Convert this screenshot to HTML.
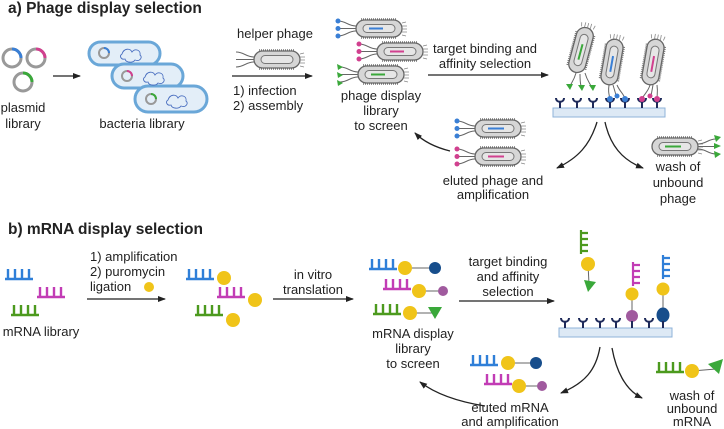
<!DOCTYPE html>
<html><head><meta charset="utf-8"><style>
html,body{margin:0;padding:0;background:#fff}
svg{display:block}
text{font-family:"Liberation Sans",sans-serif;fill:#222;font-size:13px}
.b{font-weight:bold;font-size:15.5px}
</style></head><body>
<svg width="724" height="429" viewBox="0 0 724 429" xmlns="http://www.w3.org/2000/svg">
<defs>
<marker id="ar" markerWidth="8" markerHeight="8" refX="7" refY="4" orient="auto" markerUnits="userSpaceOnUse"><path d="M0,1 L8,4 L0,7 Z" fill="#222"/></marker>
<g id="pb">
<line x1="5" y1="-1" x2="41" y2="-1" stroke="#777" stroke-width="1.6" stroke-dasharray="1 1"/>
<line x1="5" y1="18" x2="41" y2="18" stroke="#777" stroke-width="1.6" stroke-dasharray="1 1"/>
<rect x="0" y="0" width="46" height="17" rx="8.5" fill="#d6d6d6" stroke="#666" stroke-width="1.3"/>
<rect x="7" y="4.5" width="32" height="8" rx="4" fill="#e6e6e6" stroke="#777" stroke-width="1"/>
<path d="M46,3 l4,-1 M46,6 l5,0 M46,9 l5,0 M46,12 l5,0 M46,15 l4,1" stroke="#888" stroke-width="0.8"/>
</g>
<g id="tl"><path d="M0,6 C-8,6 -10,1 -18,1 M0,8.5 C-8,8.5 -10,8.5 -18,8.5 M0,11 C-8,11 -10,16 -18,16" fill="none" stroke="#666" stroke-width="1"/></g>
<g id="comb"><path d="M0,0 H28 M3,0 V-10 M10,0 V-10 M17,0 V-10 M24,0 V-10" stroke-width="2.4" fill="none"/></g>
<g id="vcomb"><path d="M0,0 V24 M0,3 H7 M0,9 H7 M0,15 H7 M0,21 H7" stroke-width="2.2" fill="none"/></g>
<g id="rec"><path d="M-4,0 C-4,5 4,5 4,0 M0,4 V10" stroke="#1e2a5a" stroke-width="2" fill="none"/></g>
</defs>

<text x="8" y="13" class="b">a) Phage display selection</text>
<g fill="none" stroke-width="3">
<circle cx="12" cy="58" r="9" stroke="#999"/><path d="M12,49 A9,9 0 0 1 21,58" stroke="#3a7fd5"/>
<circle cx="36" cy="58" r="9" stroke="#999"/><path d="M36,49 A9,9 0 0 1 45,58" stroke="#d1408f"/>
<circle cx="23" cy="82" r="9" stroke="#999"/><path d="M23,73 A9,9 0 0 1 32,82" stroke="#3aa83a"/>
</g>
<text x="23" y="112" text-anchor="middle">plasmid</text>
<text x="23" y="128" text-anchor="middle">library</text>
<line x1="53" y1="76" x2="80" y2="76" stroke="#222" stroke-width="1.3" marker-end="url(#ar)"/>

<g stroke-width="3">
<rect x="89" y="42" width="71" height="23" rx="11.5" fill="#e3eef8" stroke="#6aa7d8"/>
<rect x="112" y="64" width="71" height="24" rx="12" fill="#e3eef8" stroke="#6aa7d8"/>
<rect x="135" y="86" width="72" height="26" rx="13" fill="#e3eef8" stroke="#6aa7d8"/>
</g>
<g fill="none" stroke-width="2">
<circle cx="104" cy="53" r="5" stroke="#999"/><path d="M104,48 A5,5 0 0 1 109,53" stroke="#3a7fd5"/>
<circle cx="127" cy="76" r="5" stroke="#999"/><path d="M127,71 A5,5 0 0 1 132,76" stroke="#d1408f"/>
<circle cx="151" cy="99" r="5" stroke="#999"/><path d="M151,94 A5,5 0 0 1 156,99" stroke="#3aa83a"/>
</g>
<g fill="none" stroke="#4a6fc0" stroke-width="0.9">
<path d="M122,54 c2,-6 8,-6 10,-2 c3,-4 9,-2 8,3 c3,2 0,7 -5,5 c-2,3 -9,3 -10,-1 c-4,1 -6,-3 -3,-5 z"/>
<path d="M145,77 c2,-6 8,-6 10,-2 c3,-4 9,-2 8,3 c3,2 0,7 -5,5 c-2,3 -9,3 -10,-1 c-4,1 -6,-3 -3,-5 z"/>
<path d="M168,100 c2,-6 8,-6 10,-2 c3,-4 9,-2 8,3 c3,2 0,7 -5,5 c-2,3 -9,3 -10,-1 c-4,1 -6,-3 -3,-5 z"/>
</g>
<text x="142" y="128" text-anchor="middle">bacteria library</text>

<text x="275" y="38" text-anchor="middle">helper phage</text>
<use href="#pb" x="254" y="51"/><use href="#tl" x="254" y="51"/>
<line x1="232" y1="76" x2="312" y2="76" stroke="#222" stroke-width="1.3" marker-end="url(#ar)"/>
<text x="233" y="95">1) infection</text>
<text x="233" y="110">2) assembly</text>

<use href="#pb" x="356" y="20"/><use href="#tl" x="356" y="20"/>
<line x1="369" y1="28.5" x2="383" y2="28.5" stroke="#3a7fd5" stroke-width="2"/>
<g fill="#3a7fd5"><circle cx="338" cy="21" r="2.5"/><circle cx="338" cy="28.5" r="2.5"/><circle cx="338" cy="36" r="2.5"/></g>
<use href="#pb" x="377" y="43"/><use href="#tl" x="377" y="43"/>
<line x1="390" y1="51.5" x2="404" y2="51.5" stroke="#d1408f" stroke-width="2"/>
<g fill="#d1408f"><circle cx="359" cy="44" r="2.5"/><circle cx="359" cy="51.5" r="2.5"/><circle cx="359" cy="59" r="2.5"/></g>
<use href="#pb" x="358" y="66"/><use href="#tl" x="358" y="66"/>
<line x1="371" y1="74.5" x2="385" y2="74.5" stroke="#3aa83a" stroke-width="2"/>
<g fill="#3aa83a"><path d="M337,64 l6,3 l-5,3z"/><path d="M337,72 l6,3 l-5,3z"/><path d="M337,80 l6,3 l-5,3z"/></g>
<text x="381" y="100" text-anchor="middle">phage display</text>
<text x="381" y="115" text-anchor="middle">library</text>
<text x="381" y="130" text-anchor="middle">to screen</text>

<text x="485" y="53" text-anchor="middle">target binding and</text>
<text x="485" y="68" text-anchor="middle">affinity selection</text>
<line x1="428" y1="75" x2="548" y2="75" stroke="#222" stroke-width="1.3" marker-end="url(#ar)"/>

<rect x="553" y="108" width="112" height="9" fill="#dde9f5" stroke="#8fb3d9" stroke-width="1"/>
<use href="#rec" x="560" y="98"/><use href="#rec" x="577" y="98"/><use href="#rec" x="593" y="98"/><use href="#rec" x="610" y="98"/><use href="#rec" x="625" y="98"/><use href="#rec" x="642" y="98"/><use href="#rec" x="657" y="98"/>
<g transform="translate(581,50) rotate(-75)"><use href="#pb" x="-23" y="-8.5"/><line x1="-10" y1="0" x2="6" y2="0" stroke="#3aa83a" stroke-width="2"/></g>
<path d="M576,73 C574,80 572,82 570,86 M580,74 C580,80 580,82 581,86 M585,73 C587,80 589,82 591,86" stroke="#666" stroke-width="1" fill="none"/>
<g fill="#3aa83a"><path d="M566,84 l7,0 l-3,6z"/><path d="M578,85 l7,0 l-3,6z"/><path d="M589,85 l7,0 l-3,6z"/></g>
<g transform="translate(612,62) rotate(-80)"><use href="#pb" x="-23" y="-8.5"/><line x1="-10" y1="0" x2="6" y2="0" stroke="#3a7fd5" stroke-width="2"/></g>
<path d="M609,85 C608,92 609,94 610,99 M613,85 L616,95 M617,85 C620,92 624,94 625,99" stroke="#666" stroke-width="1" fill="none"/>
<g fill="#3a7fd5"><circle cx="610" cy="99" r="3"/><circle cx="617" cy="96" r="2.5"/><circle cx="625" cy="99" r="3"/></g>
<g transform="translate(653,62) rotate(-80)"><use href="#pb" x="-23" y="-8.5"/><line x1="-10" y1="0" x2="6" y2="0" stroke="#d1408f" stroke-width="2"/></g>
<path d="M650,85 C648,92 644,94 642,99 M653,85 L651,96 M657,85 C658,92 657,94 657,99" stroke="#666" stroke-width="1" fill="none"/>
<g fill="#d1408f"><circle cx="642" cy="99" r="3"/><circle cx="650" cy="96" r="2.5"/><circle cx="657" cy="99" r="3"/></g>

<path d="M597,122 C590,145 578,158 557,168" fill="none" stroke="#222" stroke-width="1.3" marker-end="url(#ar)"/>
<path d="M605,122 C610,145 622,160 643,168" fill="none" stroke="#222" stroke-width="1.3" marker-end="url(#ar)"/>

<use href="#pb" x="652" y="138"/>
<line x1="665" y1="146.5" x2="681" y2="146.5" stroke="#3aa83a" stroke-width="2"/>
<path d="M698,144 C706,144 708,139 716,139 M698,146.5 L716,146.5 M698,149 C706,149 708,154 716,154" stroke="#666" stroke-width="1" fill="none"/>
<g fill="#3aa83a"><path d="M714,135 l7,2 l-5,5z"/><path d="M714,143 l7,3 l-7,3z"/><path d="M714,151 l7,3 l-6,4z"/></g>
<text x="678" y="171" text-anchor="middle">wash of</text>
<text x="678" y="187" text-anchor="middle">unbound</text>
<text x="678" y="203" text-anchor="middle">phage</text>

<use href="#pb" x="475" y="120"/><use href="#tl" x="475" y="120"/>
<line x1="488" y1="128.5" x2="504" y2="128.5" stroke="#3a7fd5" stroke-width="2"/>
<g fill="#3a7fd5"><circle cx="457" cy="121" r="2.5"/><circle cx="457" cy="128.5" r="2.5"/><circle cx="457" cy="136" r="2.5"/></g>
<use href="#pb" x="475" y="148"/><use href="#tl" x="475" y="148"/>
<line x1="488" y1="156.5" x2="504" y2="156.5" stroke="#d1408f" stroke-width="2"/>
<g fill="#d1408f"><circle cx="457" cy="149" r="2.5"/><circle cx="457" cy="156.5" r="2.5"/><circle cx="457" cy="164" r="2.5"/></g>
<text x="493" y="185" text-anchor="middle">eluted phage and</text>
<text x="493" y="199" text-anchor="middle">amplification</text>
<path d="M450,151 C438,148 425,143 415,133" fill="none" stroke="#222" stroke-width="1.3" marker-end="url(#ar)"/>

<text x="8" y="234" class="b">b) mRNA display selection</text>
<g stroke="#2f7fd8"><use href="#comb" x="5" y="279"/></g>
<g stroke="#c23cb5"><use href="#comb" x="37" y="297"/></g>
<g stroke="#4c9a1e"><use href="#comb" x="11" y="315"/></g>
<text x="41" y="336" text-anchor="middle">mRNA library</text>
<line x1="87" y1="299" x2="165" y2="299" stroke="#222" stroke-width="1.3" marker-end="url(#ar)"/>
<text x="90" y="261">1) amplification</text>
<text x="90" y="276">2) puromycin</text>
<text x="90" y="291">ligation</text>
<circle cx="149" cy="287" r="5" fill="#f0c419"/>

<g stroke="#2f7fd8"><use href="#comb" x="186" y="279"/></g><circle cx="224" cy="278" r="7" fill="#f0c419"/>
<g stroke="#c23cb5"><use href="#comb" x="217" y="297"/></g><circle cx="255" cy="300" r="7" fill="#f0c419"/>
<g stroke="#4c9a1e"><use href="#comb" x="195" y="315"/></g><circle cx="233" cy="320" r="7" fill="#f0c419"/>
<line x1="273" y1="299" x2="353" y2="299" stroke="#222" stroke-width="1.3" marker-end="url(#ar)"/>
<text x="313" y="279" text-anchor="middle">in vitro</text>
<text x="313" y="294" text-anchor="middle">translation</text>

<g stroke="#666" stroke-width="1"><line x1="405" y1="268" x2="435" y2="268"/><line x1="419" y1="291" x2="443" y2="291"/><line x1="410" y1="313" x2="432" y2="313"/></g>
<g stroke="#2f7fd8"><use href="#comb" x="369" y="269"/></g><circle cx="405" cy="268" r="7" fill="#f0c419"/><circle cx="435" cy="268" r="6" fill="#174e8c"/>
<g stroke="#c23cb5"><use href="#comb" x="383" y="289"/></g><circle cx="419" cy="291" r="7" fill="#f0c419"/><circle cx="443" cy="291" r="5" fill="#a05a9e"/>
<g stroke="#4c9a1e"><use href="#comb" x="373" y="314"/></g><circle cx="410" cy="313" r="7" fill="#f0c419"/><path d="M428,307 L442,307 L435,319 Z" fill="#3aa83a"/>
<text x="413" y="338" text-anchor="middle">mRNA display</text>
<text x="413" y="353" text-anchor="middle">library</text>
<text x="413" y="368" text-anchor="middle">to screen</text>

<text x="508" y="266" text-anchor="middle">target binding</text>
<text x="508" y="281" text-anchor="middle">and affinity</text>
<text x="508" y="296" text-anchor="middle">selection</text>
<line x1="459" y1="301" x2="554" y2="301" stroke="#222" stroke-width="1.3" marker-end="url(#ar)"/>

<rect x="559" y="328" width="113" height="9" fill="#dde9f5" stroke="#8fb3d9" stroke-width="1"/>
<use href="#rec" x="565" y="318"/><use href="#rec" x="583" y="318"/><use href="#rec" x="600" y="318"/><use href="#rec" x="616" y="318"/><use href="#rec" x="649" y="318"/>
<g stroke="#4c9a1e"><use href="#vcomb" x="581" y="230"/></g>
<line x1="588" y1="264" x2="589" y2="284" stroke="#666" stroke-width="1"/>
<circle cx="588" cy="264" r="7" fill="#f0c419"/><path d="M584,280 L596,282 L588,292 Z" fill="#3aa83a"/>
<g stroke="#c23cb5"><use href="#vcomb" x="633" y="262"/></g>
<line x1="632" y1="295" x2="632" y2="315" stroke="#666" stroke-width="1"/>
<circle cx="632" cy="294" r="6.5" fill="#f0c419"/><circle cx="632" cy="316" r="6" fill="#a05a9e"/><path d="M632,321 V328" stroke="#1e2a5a" stroke-width="2"/>
<g stroke="#2f7fd8"><use href="#vcomb" x="663" y="255"/></g>
<line x1="663" y1="290" x2="663" y2="315" stroke="#666" stroke-width="1"/>
<circle cx="663" cy="289" r="6.5" fill="#f0c419"/><ellipse cx="663" cy="315" rx="6.5" ry="7.5" fill="#174e8c"/><path d="M663,321 V328" stroke="#1e2a5a" stroke-width="2"/>

<path d="M600,347 C596,370 585,383 561,393" fill="none" stroke="#222" stroke-width="1.3" marker-end="url(#ar)"/>
<path d="M612,348 C616,370 625,390 642,398" fill="none" stroke="#222" stroke-width="1.3" marker-end="url(#ar)"/>

<line x1="692" y1="371" x2="716" y2="369" stroke="#666" stroke-width="1"/>
<g stroke="#4c9a1e"><use href="#comb" x="656" y="372"/></g><circle cx="692" cy="371" r="7" fill="#f0c419"/><path d="M708,364 L723,359 L719,374 Z" fill="#3aa83a"/>
<text x="692" y="400" text-anchor="middle">wash of</text>
<text x="692" y="413" text-anchor="middle">unbound</text>
<text x="692" y="426" text-anchor="middle">mRNA</text>

<g stroke="#666" stroke-width="1"><line x1="508" y1="363" x2="536" y2="363"/><line x1="519" y1="386" x2="542" y2="386"/></g>
<g stroke="#2f7fd8"><use href="#comb" x="470" y="365"/></g><circle cx="508" cy="363" r="7" fill="#f0c419"/><circle cx="536" cy="363" r="6" fill="#174e8c"/>
<g stroke="#c23cb5"><use href="#comb" x="484" y="384"/></g><circle cx="519" cy="386" r="7" fill="#f0c419"/><circle cx="542" cy="386" r="5" fill="#a05a9e"/>
<text x="510" y="412" text-anchor="middle">eluted mRNA</text>
<text x="510" y="426" text-anchor="middle">and amplification</text>
<path d="M485,406 C460,402 437,395 420,382" fill="none" stroke="#222" stroke-width="1.3" marker-end="url(#ar)"/>
</svg>
</body></html>
